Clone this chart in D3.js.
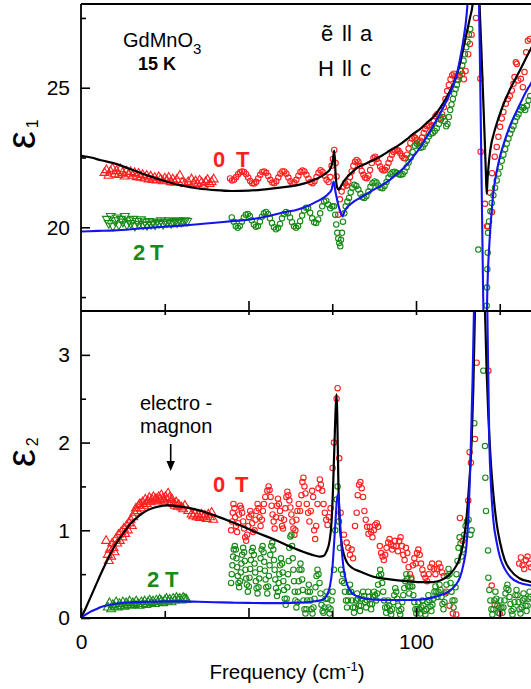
<!DOCTYPE html>
<html>
<head>
<meta charset="utf-8">
<script src="https://cdn.jsdelivr.net/npm/d3@7"></script>
<style>
  body { margin: 0; background: #fff; }
  svg text { font-family: "Liberation Sans", Arial, Helvetica, sans-serif; }
</style>
</head>
<body>
<svg id="chart" width="531" height="689"></svg>
<script>
// ---------- axis ticks ----------
const freqMajorTicks = [0, 50, 100];
const freqMinorTicks = [25, 75, 125];
const freqTickLabels = [0, 100];
const eps1MajorTicks = [20, 25];
const eps1MinorTicks = [17.5, 22.5, 27.5];
const eps2MajorTicks = [0, 1, 2, 3];
const eps2MinorTicks = [0.5, 1.5, 2.5];

// ---------- eps1, measured (frequency cm^-1, value) ----------
const eps1Tri0T = [[7,21.95],[7.6,22.05],[8.2,21.85],[8.8,22.0],[9.4,22.1],[10,21.9],[10.6,22.02],[11.2,21.88],[11.8,22.08],[12.4,21.95],[13,21.82],[13.6,22.0],[14.2,21.9],[14.8,21.98],[15.4,21.85],[16,21.95],[16.6,21.8],[17.2,21.92],[17.8,21.78],[18.4,21.88],[19,21.75],[19.6,21.85],[20.2,21.72],[20.8,21.82],[21.4,21.7],[22,21.78],[22.6,21.68],[23.2,21.8],[23.8,21.72],[24.4,21.65],[25,21.75],[25.6,21.68],[26.2,21.78],[26.8,21.62],[27.4,21.72],[28,21.6],[28.6,21.7],[29.5,21.85],[30.2,21.6],[31,21.55],[32,21.62],[33,21.72],[33.6,21.58],[34.2,21.65],[34.8,21.55],[35.4,21.68],[36,21.6],[36.6,21.5],[37.2,21.62],[37.8,21.7],[38.4,21.55],[39,21.62],[39.6,21.72]];
const eps1Tri2T = [[7.7,20.3],[8.3,20.15],[8.9,20.4],[9.5,20.05],[10.1,20.25],[10.7,20.35],[11.3,20.1],[11.9,20.3],[12.5,20.2],[13.1,20.4],[13.7,20.1],[14.3,20.25],[14.9,20.15],[15.5,20.3],[16.1,20.05],[16.7,20.22],[17.3,20.12],[17.9,20.28],[18.5,20.1],[19.1,20.2],[19.7,20.08],[20.3,20.22],[20.9,20.12],[21.5,20.18],[22.1,20.1],[22.7,20.2],[23.3,20.15],[23.9,20.25],[24.5,20.12],[25.1,20.2],[25.7,20.18],[26.3,20.25],[26.9,20.15],[27.5,20.2],[28.1,20.22],[28.7,20.18],[29.3,20.25],[29.9,20.2],[30.5,20.22],[31.1,20.25],[31.7,20.22]];
const eps1Circ0T = [[44.5,21.75],[45.1,21.68],[45.7,21.7],[46.3,21.8],[46.9,21.9],[47.5,21.97],[48.1,22.0],[48.7,21.98],[49.3,21.9],[49.9,21.78],[50.5,21.66],[51.1,21.58],[51.7,21.57],[52.3,21.63],[52.9,21.75],[53.5,21.88],[54.1,21.98],[54.7,22.0],[55.3,21.95],[55.9,21.84],[56.5,21.7],[57.1,21.6],[57.7,21.58],[58.3,21.65],[58.9,21.78],[59.5,21.92],[60.1,22.0],[60.7,22.0],[61.3,21.92],[61.9,21.78],[62.5,21.65],[63.1,21.58],[63.7,21.6],[64.3,21.7],[64.9,21.85],[65.5,21.98],[66.1,22.03],[66.7,22.0],[67.3,21.88],[67.9,21.74],[68.5,21.62],[69.1,21.58],[69.7,21.65],[70.3,21.8],[70.9,21.95],[71.5,22.04],[72.1,21.98],[72.7,21.85],[73.3,21.7],[73.9,21.62],[74.4,21.8],[74.8,22.2],[75.2,22.45],[75.6,22.77],[76.0,22.3],[76.3,21.82],[76.8,20.45],[77.3,21.0],[77.8,21.28],[78.3,21.45],[78.8,21.58],[79.3,21.5],[79.8,21.62],[80.3,21.8],[80.8,22.0],[81.3,22.2],[81.8,22.35],[82.3,22.41],[82.8,22.35],[83.3,22.2],[83.8,22.02],[84.3,21.88],[84.8,21.78],[85.3,21.76],[85.8,21.85],[86.3,22.05],[86.8,22.3],[87.3,22.48],[87.8,22.53],[88.3,22.45],[88.8,22.32],[89.3,22.18],[89.8,22.08],[90.3,22.03],[90.8,22.05],[91.3,22.15],[91.8,22.3],[92.3,22.45],[92.8,22.6],[93.3,22.7],[93.8,22.75],[94.3,22.77],[94.8,22.74],[95.3,22.65],[95.8,22.55],[96.3,22.48],[96.8,22.47],[97.3,22.6],[97.8,22.82],[98.3,23.02],[98.8,23.18],[99.3,23.24],[99.8,23.2],[100.3,23.12],[100.8,23.05],[101.3,23.1],[101.8,23.22],[102.3,23.38],[102.8,23.52],[103.3,23.62],[103.8,23.65],[104.3,23.6],[104.8,23.66],[105.3,23.8],[105.8,23.98],[106.3,24.05],[106.8,24.0],[107.3,23.92],[107.8,24.05],[108.3,24.3],[108.8,24.6],[109.3,24.88],[109.8,25.1],[110.3,25.3],[110.8,25.45],[111.3,25.5],[111.8,25.42],[112.3,25.3],[112.8,25.4],[113.3,25.6],[113.8,25.5],[114.3,25.3],[114.8,25.6],[115.6,26.2],[116.1,26.57],[116.6,26.9],[117.9,27.5],[119.2,25.33],[119.3,22.71],[120.6,20.84],[121.2,20.04],[121.5,20.04],[122.1,21.24],[122.7,20.55],[122.7,21.94],[123.5,22.53],[124.1,22.88],[124.6,23.24],[125.1,23.6],[125.6,23.9],[126.1,24.13],[126.8,24.43],[127.4,24.6],[128.0,24.7],[128.6,24.9],[129.1,25.14],[129.4,25.38],[129.8,25.91],[130.1,25.85],[130.5,25.26],[131.3,25.32],[131.9,25.02],[132.4,25.56],[132.9,26.27],[133.4,26.68],[134.0,26.75]];
const eps1Circ2T = [[45.0,20.35],[45.6,20.2],[46.2,20.05],[46.8,19.98],[47.4,20.05],[48.0,20.2],[48.6,20.35],[49.2,20.45],[49.8,20.48],[50.4,20.4],[51.0,20.25],[51.6,20.1],[52.2,20.02],[52.8,20.05],[53.4,20.2],[54.0,20.38],[54.6,20.5],[55.2,20.55],[55.8,20.48],[56.4,20.32],[57.0,20.15],[57.6,20.0],[58.2,19.93],[58.8,19.98],[59.4,20.12],[60.0,20.32],[60.6,20.48],[61.2,20.55],[61.8,20.5],[62.4,20.35],[63.0,20.18],[63.6,20.04],[64.2,19.98],[64.8,20.05],[65.4,20.22],[66.0,20.42],[66.6,20.6],[67.2,20.7],[67.8,20.68],[68.4,20.52],[69.0,20.32],[69.6,20.18],[70.2,20.15],[70.8,20.28],[71.4,20.5],[72.0,20.75],[72.6,20.92],[73.2,20.95],[73.8,20.82],[74.4,20.68],[75.0,20.75],[75.5,20.75],[75.9,20.45],[76.2,20.1],[76.5,19.8],[76.8,19.6],[77.1,19.44],[77.4,19.32],[77.6,19.55],[77.9,19.8],[78.2,20.2],[78.6,20.5],[79.0,20.75],[79.5,20.92],[80.0,21.05],[80.5,21.25],[81.0,21.42],[81.6,21.52],[82.2,21.48],[82.8,21.35],[83.4,21.2],[84.0,21.08],[84.6,21.05],[85.2,21.12],[85.8,21.28],[86.4,21.45],[87.0,21.58],[87.6,21.64],[88.2,21.6],[88.8,21.5],[89.4,21.42],[90.0,21.4],[90.6,21.48],[91.2,21.62],[91.8,21.78],[92.4,21.9],[93.0,21.97],[93.6,21.99],[94.2,21.95],[94.8,21.9],[95.4,21.88],[96.0,21.9],[96.6,22.0],[97.2,22.15],[97.8,22.32],[98.4,22.5],[99.0,22.7],[99.6,22.92],[100.2,23.0],[100.8,22.92],[101.4,22.85],[102.0,22.88],[102.6,22.98],[103.2,23.1],[103.8,23.25],[104.4,23.35],[105.0,23.38],[105.6,23.45],[106.2,23.55],[106.8,23.7],[107.4,23.85],[108.0,23.95],[108.6,23.8],[109.0,23.62],[109.4,23.7],[109.8,23.95],[110.2,24.2],[110.6,24.4],[111.0,24.6],[111.4,24.78],[111.8,24.95],[112.2,25.1],[112.6,25.28],[113.0,25.45],[113.4,25.6],[113.8,25.8],[114.2,25.97],[114.6,26.2],[115.0,26.45],[115.4,26.65],[115.8,26.9],[116.2,27.1],[118.6,19.2],[121.1,17.19],[121.2,17.84],[121.3,18.5],[121.4,19.09],[121.5,19.8],[121.8,20.21],[122.2,20.57],[122.6,20.87],[123.1,21.15],[123.6,21.42],[124.1,21.68],[124.6,21.92],[125.1,22.15],[125.6,22.38],[126.1,22.6],[126.6,22.8],[127.1,23.0],[127.6,23.18],[128.1,23.35],[128.6,23.5],[129.1,23.62],[129.6,23.8],[130.1,23.95],[130.6,24.05],[131.1,24.2],[131.6,24.3],[132.1,24.28],[132.6,24.2],[133.1,24.35],[133.6,24.55],[134.1,24.7]];

// ---------- eps1, model fits ----------
const eps1Fit0T = [[0,22.56],[3,22.5],[6,22.4],[10,22.29],[15,22.07],[20,21.85],[25,21.66],[30,21.5],[35,21.39],[40,21.33],[45,21.3],[50,21.31],[55,21.36],[60,21.43],[65,21.52],[68,21.62],[70,21.72],[72,21.84],[73.5,21.97],[74.5,22.12],[75.1,22.35],[75.6,22.75],[76.0,21.9],[76.4,21.45],[76.9,21.35],[77.5,21.45],[78.5,21.65],[79.3,21.78],[81,21.98],[82.3,22.12],[85,22.28],[87.3,22.41],[90,22.58],[92.2,22.75],[95,22.95],[97.2,23.15],[99,23.33],[101.2,23.52],[103,23.72],[105.2,23.95],[107.2,24.28],[109.2,24.67],[111.1,25.12],[112.1,25.45],[113.1,25.85],[114.1,26.4],[115.1,26.95],[116.1,27.5],[116.8,27.9],[117.4,28.6],[118.1,31],[118.6,29.5],[119.0,27.9],[119.5,26.4],[120.0,24.8],[120.5,23.2],[120.9,21.8],[121.1,21.2],[121.4,21.8],[121.9,22.5],[122.5,23.0],[123.1,23.3],[124.1,23.72],[125.1,24.08],[126.6,24.55],[128.1,24.95],[129.6,25.3],[131.0,25.62],[132.6,26.0],[134.3,26.4],[135,26.55]];
const eps1Fit2T = [[0,19.85],[5,19.87],[10,19.89],[15,19.93],[20,19.98],[25,20.02],[30,20.06],[35,20.11],[40,20.16],[45,20.22],[50,20.27],[55,20.38],[60,20.52],[65,20.65],[68,20.78],[70,20.9],[72.3,21.05],[74,21.22],[74.8,21.35],[75.4,21.64],[76,21.25],[76.8,20.8],[77.6,20.5],[78.1,20.39],[78.6,20.55],[79.3,20.7],[80.3,20.81],[81.5,20.93],[83.3,21.05],[85,21.17],[87.3,21.34],[90,21.52],[92.2,21.7],[95,21.98],[97.2,22.23],[99,22.5],[101.2,22.85],[103,23.2],[105.2,23.65],[107.2,24.08],[109.2,24.55],[111.1,25.08],[112.1,25.45],[113.1,26.0],[114.1,26.68],[115.1,27.6],[115.6,28.4],[116.2,30],[117.4,34],[118.2,31],[118.8,28.2],[119.2,25],[119.6,21.5],[120.0,18],[120.3,15.5],[120.7,12],[121.0,15.5],[121.2,17.2],[121.5,18.5],[121.8,19.2],[122.1,19.8],[122.6,20.6],[123.1,21.25],[124.1,22.0],[125.1,22.55],[126.6,23.15],[128.1,23.65],[129.6,24.05],[131.0,24.4],[132.6,24.8],[134.3,25.15],[135,25.3]];

// ---------- eps2, measured ----------
const eps2Tri0T = [[7.5,0.88],[8,0.72],[8.3,0.65],[8.6,0.78],[9,0.7],[9.3,0.85],[9.7,0.8],[10,0.75],[10.4,0.9],[10.8,0.85],[11.2,0.95],[11.6,0.88],[12,0.98],[12.4,0.92],[12.8,1.02],[13.2,0.96],[13.6,1.05],[14,1.0],[14.4,1.08],[14.8,1.12],[15.2,1.05],[15.6,1.15],[16,1.2],[16.4,1.25],[16.8,1.22],[17.2,1.28],[17.6,1.3],[18,1.25],[18.4,1.32],[18.8,1.28],[19.2,1.35],[19.6,1.3],[20,1.33],[20.4,1.37],[20.8,1.32],[21.2,1.35],[21.6,1.38],[22,1.34],[22.4,1.36],[22.8,1.33],[23.2,1.38],[23.6,1.35],[24,1.4],[24.4,1.36],[24.8,1.33],[25.2,1.38],[25.6,1.35],[26,1.42],[26.4,1.37],[26.8,1.32],[27.2,1.35],[27.6,1.3],[28,1.28],[28.4,1.32],[28.8,1.27],[29.2,1.29],[30,1.26],[30.5,1.24],[31,1.28],[32,1.22],[33,1.18],[33.5,1.16],[34,1.19],[34.5,1.15],[35,1.17],[35.5,1.14],[36,1.18],[36.5,1.15],[37,1.17],[37.5,1.13],[38,1.18],[38.5,1.15],[39,1.2],[39.5,1.12]];
const eps2Tri2T = [[8,0.12],[8.5,0.17],[9,0.1],[9.5,0.15],[10,0.13],[10.5,0.18],[11,0.12],[11.5,0.16],[12,0.14],[12.5,0.18],[13,0.13],[13.5,0.17],[14,0.15],[14.5,0.19],[15,0.14],[15.5,0.17],[16,0.15],[16.5,0.19],[17,0.16],[17.5,0.14],[18,0.18],[18.5,0.16],[19,0.19],[19.5,0.15],[20,0.18],[20.5,0.2],[21,0.17],[21.5,0.19],[22,0.16],[22.5,0.2],[23,0.18],[23.5,0.21],[24,0.19],[24.5,0.17],[25,0.2],[25.5,0.22],[26,0.19],[26.5,0.21],[27,0.18],[27.5,0.22],[28,0.2],[28.5,0.23],[29,0.21],[29.5,0.22],[30,0.2],[30.5,0.23],[31,0.22],[31.5,0.21]];
const eps2Circ0T = [[44.8,1.0],[45.1,1.1],[45.3,1.2],[45.5,1.3],[45.8,1.25],[46.0,1.15],[46.3,1.05],[46.6,0.98],[46.9,1.08],[47.2,1.18],[47.5,1.28],[47.8,1.25],[48.1,1.2],[48.4,1.1],[48.7,1.02],[49.0,0.92],[49.3,0.88],[49.6,0.95],[49.9,1.05],[50.2,1.15],[50.5,1.22],[50.8,1.18],[51.1,1.08],[51.4,0.98],[51.8,1.0],[52.1,1.12],[52.4,1.22],[52.7,1.3],[53.0,1.25],[53.3,1.15],[53.6,1.05],[54.0,1.12],[54.3,1.22],[54.6,1.3],[55.0,1.38],[55.6,1.45],[56.0,1.5],[56.3,1.46],[56.6,1.38],[56.9,1.28],[57.2,1.18],[57.5,1.1],[57.8,1.02],[58.2,1.15],[58.5,1.28],[58.8,1.36],[59.1,1.3],[59.4,1.22],[59.7,1.14],[60.0,1.05],[60.3,1.02],[60.6,1.12],[61.0,1.25],[61.3,1.38],[61.6,1.44],[61.9,1.4],[62.2,1.34],[62.5,1.26],[62.8,1.18],[63.1,1.1],[63.4,1.02],[63.7,0.95],[64.0,1.0],[64.3,1.12],[64.6,1.22],[65.0,1.3],[65.4,1.22],[65.8,1.4],[66.1,1.55],[66.4,1.6],[66.7,1.5],[67.0,1.42],[67.4,1.3],[67.8,1.2],[68.2,1.1],[68.6,1.22],[69.0,1.45],[69.3,1.38],[69.6,1.0],[69.9,0.9],[70.2,1.05],[70.6,1.3],[70.9,1.48],[71.3,1.58],[71.6,1.52],[72.0,1.45],[72.4,1.3],[72.8,1.2],[73.2,1.12],[73.6,1.06],[74.0,1.15],[74.5,1.25],[75.1,1.71],[75.5,2.0],[76.3,2.5],[76.6,2.62],[77.1,1.82],[77.5,1.2],[78.5,0.95],[79.3,0.86],[79.8,0.8],[80.3,0.72],[80.8,0.78],[81.2,0.68],[81.8,1.05],[82.3,1.2],[82.6,1.4],[83.0,1.52],[83.4,1.55],[83.8,1.48],[84.2,1.38],[84.6,1.22],[85.0,1.12],[85.4,1.04],[85.8,0.96],[86.2,1.04],[86.6,0.98],[87.0,0.92],[87.4,1.0],[87.8,1.06],[88.3,1.08],[88.7,1.04],[89.2,0.82],[89.6,0.74],[90.0,0.7],[90.4,0.66],[90.8,0.72],[91.2,0.8],[91.7,0.86],[92.1,0.9],[92.5,0.84],[92.9,0.78],[93.3,0.82],[93.7,0.88],[94.1,0.82],[94.6,0.76],[95.0,0.88],[95.4,0.92],[95.8,0.82],[96.2,0.72],[96.6,0.66],[97.0,0.8],[97.4,0.74],[97.8,0.58],[98.2,0.5],[98.6,0.46],[99.1,0.6],[99.5,0.68],[99.9,0.62],[100.3,0.74],[100.7,0.78],[101.1,0.72],[101.5,0.62],[101.9,0.55],[102.3,0.5],[102.8,0.46],[103.3,0.42],[103.8,0.5],[104.3,0.58],[104.8,0.62],[105.3,0.56],[105.8,0.5],[106.3,0.56],[106.8,0.62],[107.3,0.58],[107.8,0.52],[108.3,0.48],[109.0,0.3],[110.0,0.14],[111.0,0.05],[112.0,0.04],[113.1,1.14],[113.9,0.88],[115.6,1.34],[116.0,1.89],[116.4,1.77],[117.6,2.04],[118.1,2.91],[121.6,2.82],[122.6,0.37],[123.5,0.15],[125,0.05],[130.8,0.62],[131.3,0.69],[131.8,0.6],[132.3,0.56],[132.8,0.66],[133.3,0.7],[133.8,0.62],[134.3,0.58]];
const eps2Circ2T = [[44.8,0.40],[45.0,0.50],[45.2,0.60],[45.4,0.70],[45.6,0.78],[45.9,0.82],[46.2,0.78],[46.4,0.68],[46.6,0.58],[46.8,0.48],[47.0,0.40],[47.2,0.35],[47.5,0.42],[47.7,0.52],[47.9,0.62],[48.1,0.72],[48.4,0.80],[48.7,0.75],[48.9,0.65],[49.1,0.55],[49.3,0.45],[49.5,0.38],[49.8,0.30],[50.1,0.36],[50.3,0.46],[50.5,0.56],[50.7,0.66],[51.0,0.76],[51.3,0.80],[51.6,0.72],[51.8,0.62],[52.0,0.52],[52.2,0.42],[52.4,0.34],[52.7,0.28],[53.0,0.35],[53.2,0.45],[53.4,0.56],[53.6,0.68],[53.9,0.78],[54.2,0.82],[54.5,0.75],[54.7,0.64],[54.9,0.54],[55.1,0.44],[55.3,0.35],[55.6,0.28],[55.9,0.36],[56.1,0.48],[56.3,0.6],[56.5,0.72],[56.8,0.82],[57.1,0.86],[57.4,0.78],[57.6,0.66],[57.8,0.55],[58.0,0.44],[58.2,0.34],[58.5,0.25],[58.8,0.3],[59.0,0.4],[59.2,0.5],[59.4,0.6],[59.7,0.68],[60.0,0.62],[60.2,0.52],[60.4,0.42],[60.6,0.32],[60.8,0.22],[61.1,0.15],[61.4,0.22],[61.6,0.35],[61.8,0.5],[62.0,0.65],[62.2,0.8],[62.5,0.93],[62.8,0.95],[63.0,0.82],[63.2,0.68],[63.4,0.55],[63.6,0.42],[63.8,0.3],[64.0,0.2],[64.3,0.12],[64.6,0.18],[64.8,0.3],[65.0,0.42],[65.2,0.55],[65.5,0.62],[65.8,0.55],[66.0,0.44],[66.2,0.32],[66.4,0.2],[66.7,0.1],[67.0,0.05],[67.3,0.1],[67.5,0.2],[67.7,0.3],[68.0,0.38],[68.3,0.3],[68.5,0.2],[68.8,0.1],[69.1,0.05],[69.4,0.12],[69.7,0.22],[70.0,0.35],[70.3,0.48],[70.6,0.55],[70.9,0.5],[71.2,0.4],[71.5,0.28],[71.8,0.15],[72.1,0.08],[72.4,0.06],[72.7,0.12],[73.0,0.22],[73.3,0.3],[73.6,0.22],[73.9,0.12],[74.2,0.05],[74.5,0.1],[74.8,0.2],[75.1,0.3],[75.5,0.55],[75.9,1.0],[76.3,1.35],[76.6,1.5],[77.0,1.1],[77.3,0.8],[77.6,0.55],[77.9,0.42],[78.2,0.5],[78.5,0.4],[78.8,0.3],[79.1,0.2],[79.4,0.12],[79.7,0.2],[80.0,0.3],[80.3,0.38],[80.6,0.3],[80.9,0.2],[81.2,0.12],[81.5,0.06],[81.8,0.12],[82.1,0.2],[82.4,0.28],[82.7,0.22],[83.0,0.14],[83.3,0.08],[83.6,0.14],[83.9,0.22],[84.2,0.3],[84.5,0.25],[84.8,0.18],[85.1,0.12],[85.4,0.2],[85.7,0.3],[86.0,0.24],[86.3,0.16],[86.6,0.1],[86.9,0.16],[87.2,0.24],[87.5,0.3],[87.8,0.26],[88.1,0.2],[88.4,0.28],[88.7,0.38],[89.0,0.48],[89.3,0.55],[89.6,0.5],[89.9,0.4],[90.2,0.3],[90.5,0.2],[90.8,0.12],[91.1,0.06],[91.4,0.12],[91.7,0.2],[92.0,0.14],[92.3,0.08],[92.6,0.04],[92.9,0.1],[93.2,0.18],[93.5,0.26],[93.8,0.34],[94.1,0.3],[94.4,0.22],[94.7,0.14],[95.0,0.08],[95.3,0.04],[95.6,0.1],[95.9,0.18],[96.2,0.26],[96.5,0.34],[96.8,0.42],[97.1,0.5],[97.4,0.45],[97.7,0.36],[98.0,0.28],[98.3,0.36],[98.6,0.44],[98.9,0.36],[99.2,0.26],[99.5,0.18],[99.8,0.1],[100.1,0.05],[100.4,0.1],[100.7,0.18],[101.0,0.1],[101.3,0.05],[101.6,0.12],[101.9,0.2],[102.2,0.14],[102.5,0.08],[102.8,0.04],[103.1,0.1],[103.4,0.18],[103.7,0.26],[104.0,0.2],[104.3,0.13],[104.6,0.08],[104.9,0.15],[105.2,0.22],[105.5,0.3],[105.8,0.36],[106.1,0.3],[106.4,0.24],[106.7,0.3],[107.0,0.38],[107.3,0.32],[107.6,0.24],[107.9,0.16],[108.2,0.1],[108.5,0.18],[108.8,0.28],[109.1,0.38],[109.4,0.48],[109.7,0.56],[110.0,0.5],[110.3,0.4],[110.6,0.3],[110.9,0.2],[111.2,0.12],[111.5,0.2],[111.8,0.35],[112.1,0.5],[112.4,0.65],[112.7,0.8],[113.0,0.92],[113.3,0.85],[113.6,0.7],[114.0,0.78],[114.4,0.95],[114.8,1.05],[115.2,1.1],[115.7,1.12],[116.2,0.95],[116.6,1.0],[117.4,2.22],[120.1,2.82],[120.6,1.96],[120.7,1.6],[120.9,1.22],[121.5,0.77],[121.6,0.46],[121.9,0.32],[122.2,0.2],[122.5,0.1],[122.8,0.04],[123.1,0.1],[123.4,0.2],[123.7,0.3],[124.0,0.22],[124.3,0.14],[124.6,0.06],[124.9,0.12],[125.2,0.2],[125.5,0.12],[125.8,0.06],[126.1,0.12],[126.4,0.2],[126.7,0.28],[127.0,0.34],[127.3,0.38],[127.6,0.32],[127.9,0.24],[128.2,0.16],[128.5,0.08],[128.8,0.04],[129.1,0.1],[129.4,0.18],[129.7,0.26],[130.0,0.32],[130.3,0.26],[130.6,0.18],[130.9,0.1],[131.2,0.05],[131.5,0.12],[131.8,0.2],[132.1,0.28],[132.4,0.22],[132.7,0.14],[133.0,0.08],[133.3,0.14],[133.6,0.22],[133.9,0.3],[134.2,0.24]];

// ---------- eps2, model fits ----------
const eps2Fit0T = [[0,0],[1.5,0.12],[3,0.25],[4.5,0.38],[6,0.51],[8,0.67],[10,0.82],[12.5,0.96],[14.9,1.08],[17.5,1.17],[19.9,1.23],[23,1.27],[25.9,1.285],[29.9,1.27],[35,1.23],[39.8,1.17],[44,1.11],[48,1.05],[52,0.98],[57.4,0.9],[62,0.82],[67.4,0.74],[70,0.71],[71.3,0.7],[72.5,0.71],[73.3,0.76],[74.2,0.88],[74.8,1.1],[75.3,1.55],[75.8,2.15],[76.1,2.45],[76.3,2.55],[76.5,2.3],[76.8,1.6],[77.2,1.1],[77.8,0.85],[78.5,0.72],[79.3,0.64],[81,0.57],[83.3,0.53],[87.3,0.47],[92.2,0.44],[97,0.42],[101.2,0.41],[105.2,0.41],[108,0.44],[110.1,0.5],[112.1,0.6],[113.1,0.69],[114.1,0.85],[115.1,1.15],[115.9,1.55],[116.6,2.0],[117.1,2.6],[117.6,3.5],[118.2,5.2],[119.0,7],[119.8,5.2],[120.6,3.5],[121.1,2.8],[121.6,2.3],[122.3,1.8],[123.1,1.41],[124.1,1.07],[125.1,0.86],[126.5,0.66],[128.1,0.55],[131,0.45],[134.3,0.41],[135,0.4]];
const eps2Fit2T = [[0,0],[1.5,0.04],[3,0.075],[4.5,0.1],[6,0.125],[8,0.145],[10,0.16],[14.9,0.178],[19.9,0.185],[25,0.19],[29.9,0.19],[35,0.185],[40,0.18],[45,0.175],[50,0.172],[55,0.17],[60,0.17],[65,0.175],[70,0.19],[72.3,0.21],[73.5,0.27],[74.3,0.36],[75,0.55],[75.8,1.0],[76.4,1.35],[76.8,1.42],[77.3,1.12],[77.8,0.8],[78.3,0.59],[79.3,0.4],[80.5,0.3],[82.3,0.25],[85,0.22],[87.3,0.21],[92,0.205],[97.2,0.205],[101.2,0.21],[105.2,0.235],[108,0.27],[110.1,0.31],[112.1,0.39],[113.1,0.46],[114.1,0.6],[115.1,0.84],[115.7,1.2],[116.1,1.6],[116.6,2.3],[116.9,2.74],[117.3,3.5],[118.2,6],[119.3,8],[120.4,6],[121.3,3.5],[121.9,1.98],[122.4,1.5],[123.1,1.11],[124.1,0.86],[125.1,0.69],[126.5,0.56],[128.1,0.47],[131,0.4],[134.3,0.37],[135,0.36]];

// ---------- colours ----------
const RED = "#ff1f1f", GREEN = "#178a17", BLUE = "#1414f0", BLACK = "#000";

// ---------- layout ----------
const svg = d3.select("#chart");
const x = d3.scaleLinear().domain([0, 135]).range([81, 81 + 135 * 3.35]);
const yTop = d3.scaleLinear().domain([17, 28]).range([311, 4]);
const yBot = d3.scaleLinear().domain([0, 3.5]).range([618, 311]);
const plotRight = 531;

const defs = svg.append("defs");
defs.append("clipPath").attr("id", "clipTop").append("rect")
  .attr("x", x(0)).attr("y", yTop(28)).attr("width", plotRight - x(0)).attr("height", yTop(17) - yTop(28));
defs.append("clipPath").attr("id", "clipBot").append("rect")
  .attr("x", x(0)).attr("y", yBot(3.5)).attr("width", plotRight - x(0)).attr("height", yBot(0) - yBot(3.5));

const gTop = svg.append("g").attr("clip-path", "url(#clipTop)");
const gBot = svg.append("g").attr("clip-path", "url(#clipBot)");

function circles(g, data, y, color) {
  g.append("g").selectAll("circle").data(data).join("circle")
    .attr("cx", d => x(d[0])).attr("cy", d => y(d[1])).attr("r", 2.7)
    .attr("fill", "none").attr("stroke", color).attr("stroke-width", 1.1);
}
function triangles(g, data, y, color, down) {
  const sym = d3.symbol(d3.symbolTriangle, 34);
  g.append("g").selectAll("path").data(data).join("path")
    .attr("d", sym)
    .attr("transform", d => `translate(${x(d[0])},${y(d[1])})${down ? " rotate(180)" : ""}`)
    .attr("fill", "none").attr("stroke", color).attr("stroke-width", 1.1);
}
function curve(g, data, y, color, w) {
  const line = d3.line().x(d => x(d[0])).y(d => y(d[1])).curve(d3.curveMonotoneX);
  g.append("path").datum(data).attr("d", line)
    .attr("fill", "none").attr("stroke", color).attr("stroke-width", w).attr("stroke-linejoin", "round");
}

// eps1 panel
triangles(gTop, eps1Tri0T, yTop, RED, false);
triangles(gTop, eps1Tri2T, yTop, GREEN, true);
circles(gTop, eps1Circ0T, yTop, RED);
circles(gTop, eps1Circ2T, yTop, GREEN);
curve(gTop, eps1Fit0T, yTop, BLACK, 2.2);
curve(gTop, eps1Fit2T, yTop, BLUE, 2.1);

// eps2 panel
triangles(gBot, eps2Tri0T, yBot, RED, false);
triangles(gBot, eps2Tri2T, yBot, GREEN, false);
circles(gBot, eps2Circ0T, yBot, RED);
circles(gBot, eps2Circ2T, yBot, GREEN);
curve(gBot, eps2Fit0T, yBot, BLACK, 2.2);
curve(gBot, eps2Fit2T, yBot, BLUE, 2.1);

// ---------- axes ----------
function styleAxis(g, fontSize) {
  g.select(".domain").remove();
  g.selectAll(".tick line").attr("stroke", "#000").attr("stroke-width", 1.6);
  g.selectAll(".tick text").attr("font-size", fontSize).attr("fill", "#000")
    .attr("font-family", '"Liberation Sans", Arial, sans-serif');
}
// y axes
svg.append("g").attr("transform", `translate(${x(0)},0)`)
  .call(d3.axisLeft(yTop).tickValues(eps1MajorTicks).tickSize(-9).tickPadding(11).tickFormat(d3.format("d")))
  .call(g => styleAxis(g, 21));
svg.append("g").attr("transform", `translate(${x(0)},0)`)
  .call(d3.axisLeft(yTop).tickValues(eps1MinorTicks).tickSize(-5).tickFormat(""))
  .call(g => styleAxis(g, 21));
svg.append("g").attr("transform", `translate(${x(0)},0)`)
  .call(d3.axisLeft(yBot).tickValues(eps2MajorTicks).tickSize(-9).tickPadding(11).tickFormat(d3.format("d")))
  .call(g => styleAxis(g, 21));
svg.append("g").attr("transform", `translate(${x(0)},0)`)
  .call(d3.axisLeft(yBot).tickValues(eps2MinorTicks).tickSize(-5).tickFormat(""))
  .call(g => styleAxis(g, 21));

// x ticks: bottom of eps1 panel (upward)
svg.append("g").attr("transform", `translate(0,${yTop(17)})`)
  .call(d3.axisBottom(x).tickValues(freqMajorTicks.slice(1)).tickSize(-10).tickFormat(""))
  .call(g => styleAxis(g, 21));
svg.append("g").attr("transform", `translate(0,${yTop(17)})`)
  .call(d3.axisBottom(x).tickValues(freqMinorTicks).tickSize(-7).tickFormat(""))
  .call(g => styleAxis(g, 21));
// x ticks: top of eps2 panel (downward)
svg.append("g").attr("transform", `translate(0,${yBot(3.5)})`)
  .call(d3.axisTop(x).tickValues(freqMajorTicks.slice(1).concat(freqMinorTicks)).tickSize(-4).tickFormat(""))
  .call(g => styleAxis(g, 21));
// x axis: bottom of eps2 panel
svg.append("g").attr("transform", `translate(0,${yBot(0)})`)
  .call(d3.axisBottom(x).tickValues(freqMajorTicks).tickSize(-10).tickPadding(16)
    .tickFormat(d => freqTickLabels.includes(d) ? d : ""))
  .call(g => styleAxis(g, 21));
svg.append("g").attr("transform", `translate(0,${yBot(0)})`)
  .call(d3.axisBottom(x).tickValues(freqMinorTicks).tickSize(-7).tickFormat(""))
  .call(g => styleAxis(g, 21));

// frame
const frame = svg.append("g").attr("stroke", "#000").attr("stroke-width", 1.8).attr("fill", "none");
frame.append("line").attr("x1", x(0)).attr("x2", x(0)).attr("y1", yTop(28)).attr("y2", yBot(0));
[yTop(28), yTop(17), yBot(0)].forEach(yy =>
  frame.append("line").attr("x1", x(0)).attr("x2", plotRight).attr("y1", yy).attr("y2", yy));

// ---------- titles & labels ----------
const FONT = '"Liberation Sans", Arial, sans-serif';
function label(txt, px, py, opts = {}) {
  return svg.append("text").attr("x", px).attr("y", py)
    .attr("font-size", opts.size || 21).attr("font-weight", opts.bold ? "bold" : "normal")
    .style("fill", opts.color || "#000").attr("text-anchor", opts.anchor || "start")
    .attr("font-family", FONT).text(txt);
}
// axis titles
const xt = svg.append("text").attr("x", 287).attr("y", 679).attr("text-anchor", "middle")
  .attr("font-size", 20.5).attr("font-family", FONT).style("fill", "#000");
xt.append("tspan").text("Frequency (cm");
xt.append("tspan").attr("dy", -8).attr("font-size", 13).text("-1");
xt.append("tspan").attr("dy", 8).text(")");

// rotated epsilon titles, baseline toward the axis
function epsTitle(sub, bx, by) {
  const t = svg.append("text").attr("transform", `translate(${bx},${by}) rotate(-90)`)
    .attr("text-anchor", "start").attr("font-size", 40).attr("font-family", '"Liberation Serif", serif')
    .style("fill", "#000");
  t.append("tspan").text("ε");
  t.append("tspan").attr("dx", 3).attr("dy", 3).attr("font-size", 16).attr("font-family", FONT).text(sub);
}
epsTitle("1", 35, 149);
epsTitle("2", 35, 467);

// compound and conditions
const gd = svg.append("text").attr("x", 123).attr("y", 47).attr("font-size", 20)
  .attr("font-family", FONT).style("fill", "#000");
gd.append("tspan").text("GdMnO");
gd.append("tspan").attr("dy", 7).attr("font-size", 15).text("3");
label("15 K", 157, 70, { size: 18, bold: true, anchor: "middle" });

label("ẽ", 321, 41, { size: 22 });
label("ll", 342, 41, { size: 22 });
label("a", 360, 41, { size: 22 });
label("H", 318, 76, { size: 22 });
label("ll", 342, 76, { size: 22 });
label("c", 360, 76, { size: 22 });

// field labels
label("0", 213, 167, { size: 22, bold: true, color: RED });
label("T", 236, 167, { size: 22, bold: true, color: RED });
label("2", 133, 260, { size: 22, bold: true, color: GREEN });
label("T", 150, 260, { size: 22, bold: true, color: GREEN });
label("0", 213, 492, { size: 22, bold: true, color: RED });
label("T", 235, 492, { size: 22, bold: true, color: RED });
label("2", 147, 587, { size: 22, bold: true, color: GREEN });
label("T", 165, 587, { size: 22, bold: true, color: GREEN });

label("electro -", 140, 410, { size: 20 });
label("magnon", 140, 433, { size: 20 });
// arrow to the electromagnon
svg.append("line").attr("x1", 170.7).attr("x2", 170.7).attr("y1", 444).attr("y2", 463)
  .attr("stroke", "#000").attr("stroke-width", 1.6);
svg.append("path").attr("d", "M166.5,461 L174.9,461 L170.7,471 Z").attr("fill", "#000");
</script>
</body>
</html>
